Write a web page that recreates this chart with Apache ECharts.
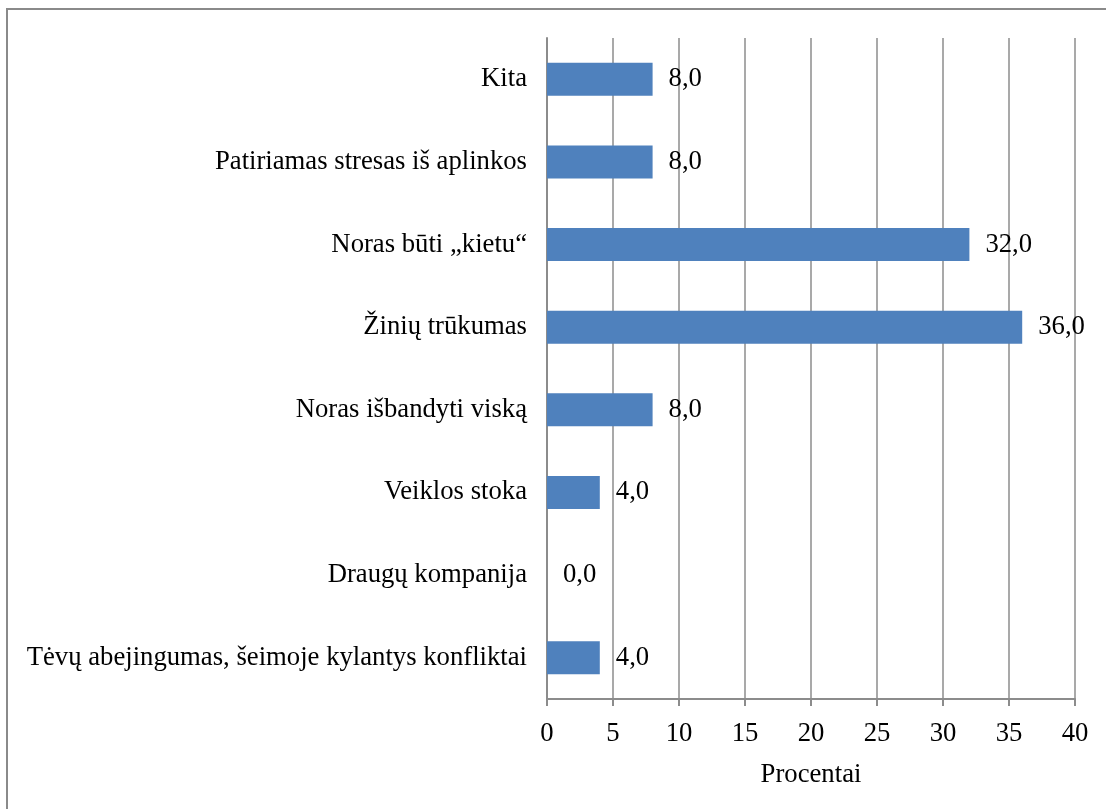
<!DOCTYPE html>
<html>
<head>
<meta charset="utf-8">
<script src="https://cdn.jsdelivr.net/npm/echarts@6/dist/echarts.min.js"></script>
<style>
html,body{margin:0;padding:0;background:#fff;}
#chart{width:1106px;height:809px;}
</style>
</head>
<body>
<div id="chart"></div>
<script>
const categories = [
  'Tėvų abejingumas, šeimoje kylantys konfliktai',
  'Draugų kompanija',
  'Veiklos stoka',
  'Noras išbandyti viską',
  'Žinių trūkumas',
  'Noras būti „kietu“',
  'Patiriamas stresas iš aplinkos',
  'Kita'
];
const values = [4.0, 0.0, 4.0, 8.0, 36.0, 32.0, 8.0, 8.0];
const axisName = 'Procentai';

const FONT = '"Liberation Serif", "Times New Roman", serif';
const FS = 26.7;
const chart = echarts.init(document.getElementById('chart'), null, {renderer: 'canvas'});
chart.setOption({
  animation: false,
  backgroundColor: '#fff',
  graphic: [{
    type: 'rect',
    shape: {x: 7, y: 9, width: 1200, height: 900},
    style: {fill: 'none', stroke: '#8a8a8a', lineWidth: 2},
    silent: true
  }],
  grid: {left: 547, right: 31, top: 38, bottom: 110, containLabel: false},
  xAxis: {
    type: 'value', min: 0, max: 40, interval: 5,
    name: axisName, nameLocation: 'middle', nameGap: 62,
    nameTextStyle: {fontFamily: FONT, fontSize: FS, color: '#000'},
    axisLine: {show: true, lineStyle: {color: '#8c8c8c', width: 2}},
    axisTick: {show: true, length: 7, lineStyle: {color: '#8c8c8c', width: 2}},
    axisLabel: {fontFamily: FONT, fontSize: FS, color: '#000', margin: 21},
    splitLine: {show: true, lineStyle: {color: '#8c8c8c', width: 1.5}}
  },
  yAxis: {
    type: 'category', data: categories,
    axisLine: {show: true, lineStyle: {color: '#8c8c8c', width: 2}},
    axisTick: {show: false},
    axisLabel: {fontFamily: FONT, fontSize: FS, color: '#000', margin: 20}
  },
  series: [{
    type: 'bar', data: values, barWidth: '40%',
    itemStyle: {color: '#4f81bd'},
    label: {
      show: true, position: 'right', distance: 16,
      fontFamily: FONT, fontSize: FS, color: '#000',
      formatter: p => p.value.toFixed(1).replace('.', ',')
    }
  }]
});
</script>
</body>
</html>
